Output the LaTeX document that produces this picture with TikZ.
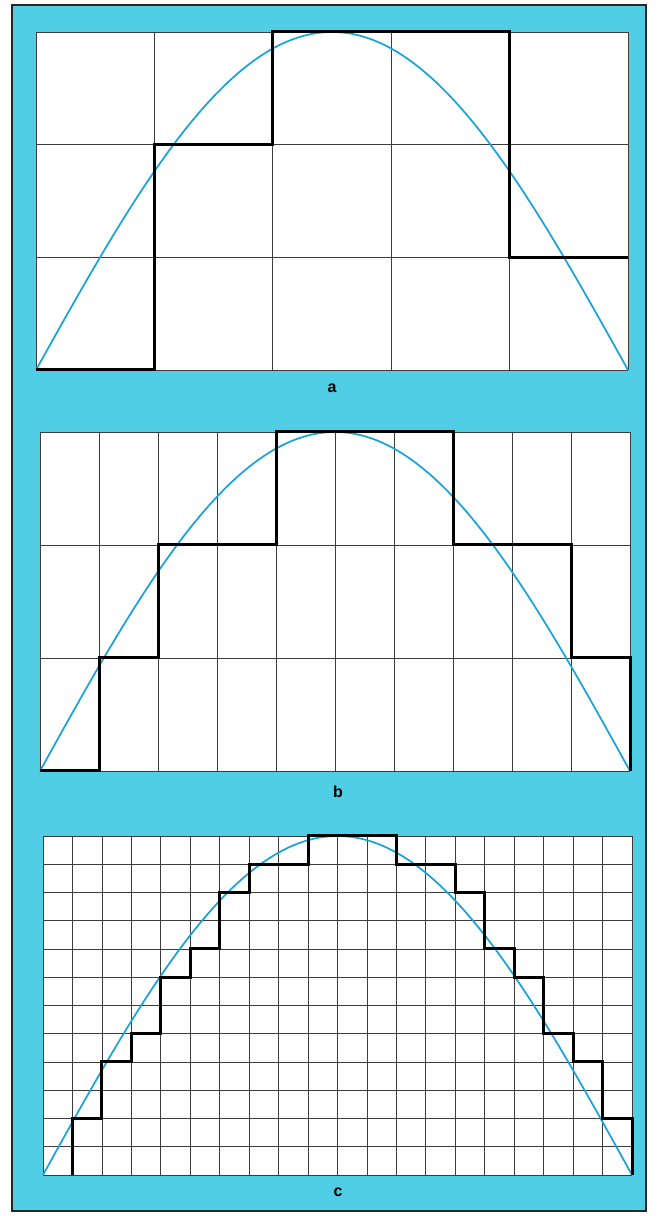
\documentclass[tikz,border=0pt]{standalone}
\usepackage{fontspec}
\setmainfont{Liberation Sans}
\usetikzlibrary{positioning}
\definecolor{panelcyan}{RGB}{80,206,230}
\definecolor{wavecyan}{RGB}{22,162,218}
\definecolor{gridgray}{RGB}{60,60,60}

\begin{document}
\begin{tikzpicture}[x=1pt,y=1pt,
  frame/.style={fill=panelcyan,draw=black!85,line width=1.4pt},
  sheet/.style={fill=white},
  gridline/.style={draw=gridgray,line width=0.8pt,step=1},
  wave/.style={draw=wavecyan,line width=1.7pt},
  stair/.style={draw=black,line width=3pt,line join=miter},
  lab/.style={font=\fontsize{16}{18}\selectfont\bfseries,inner sep=1pt}]
\useasboundingbox (0,0) rectangle (660,1216);
\draw[frame] (12,5) rectangle (646,1211);
% panel a: 5 x 3
\begin{scope}[shift={(36,846)},x=118.4pt,y=112.67pt]
\fill[sheet] (0,0) rectangle (5,3);
\draw[gridline] (0,0) grid (5,3);
\draw[wave] plot[domain=0:5,samples=80,smooth] (\x,{3*sin(36*\x)});
\draw[stair] (0,0) -- (1,0) |- (2,2) |- (4,3) |- (5,1);
\end{scope}
\node[lab] (laba) at (332,828) {a};
% panel b: 10 x 3
\begin{scope}[shift={(40,445)},x=59pt,y=113pt]
\fill[sheet] (0,0) rectangle (10,3);
\draw[gridline] (0,0) grid (10,3);
\draw[wave] plot[domain=0:10,samples=100,smooth] (\x,{3*sin(18*\x)});
\draw[stair] (0,0) -- (1,0) |- (2,1) |- (4,2) |- (7,3) |- (9,2) |- (10,1) -- (10,0);
\end{scope}
\node[lab] (labb) at (338,424) {b};
% panel c: 20 x 12
\begin{scope}[shift={(43,41)},x=29.45pt,y=28.25pt]
\fill[sheet] (0,0) rectangle (20,12);
\draw[gridline] (0,0) grid (20,12);
\draw[wave] plot[domain=0:20,samples=120,smooth] (\x,{12*sin(9*\x)});
\draw[stair] (1,0) |- (2,2) |- (3,4) |- (4,5) |- (5,7) |- (6,8) |- (7,10)
  |- (9,11) |- (12,12) |- (14,11) |- (15,10) |- (16,8) |- (17,7) |- (18,5)
  |- (19,4) |- (20,2) -- (20,0);
\end{scope}
\node[lab] (labc) at (338,24) {c};
\end{tikzpicture}
\end{document}
